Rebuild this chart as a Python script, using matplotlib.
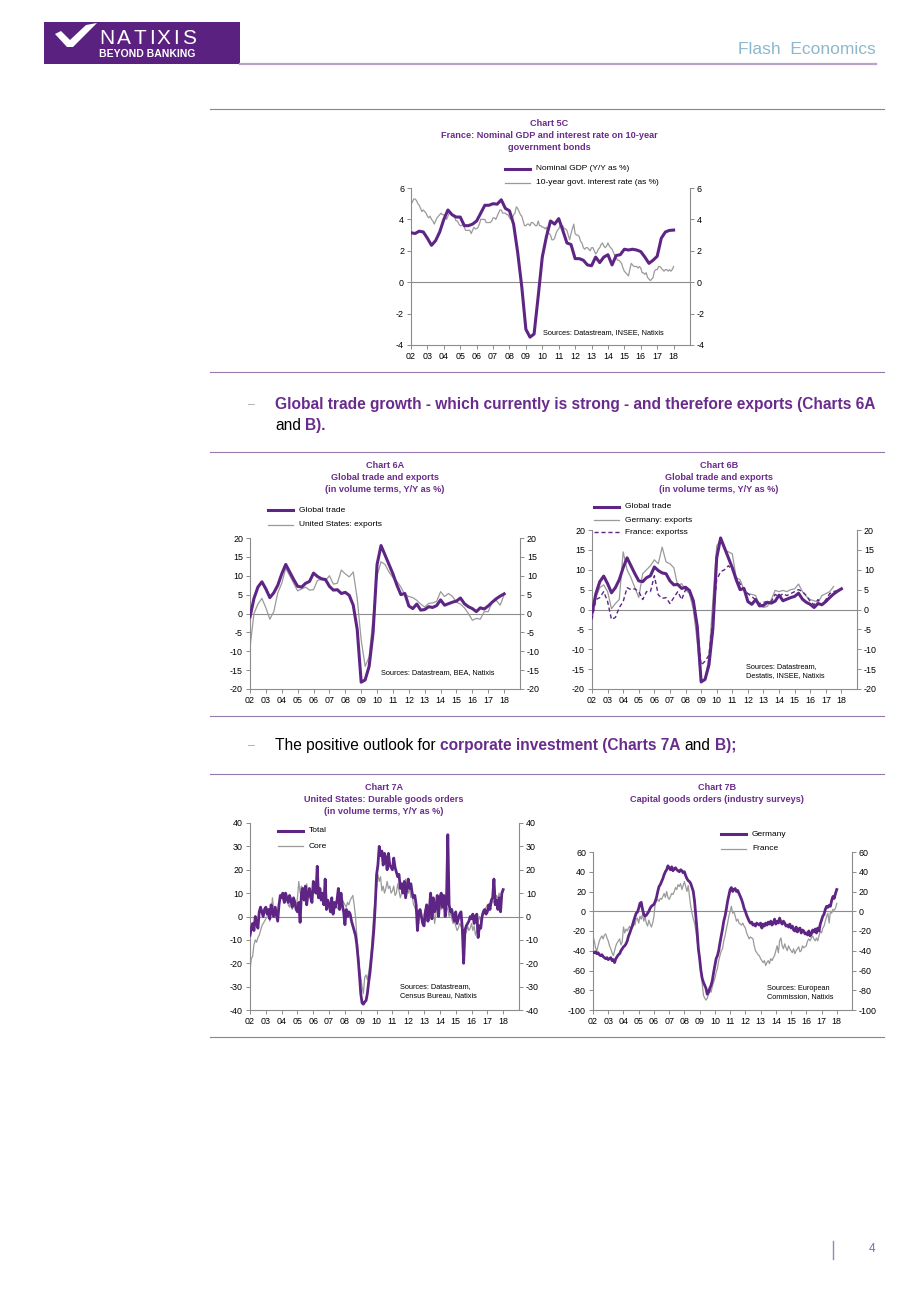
import numpy as np
import matplotlib
matplotlib.use("Agg")
import matplotlib.pyplot as plt
from matplotlib.lines import Line2D
from matplotlib.patches import Rectangle, Polygon
from matplotlib import font_manager

# ---------------- DATA ----------------
YEAR_LABELS = ['02', '03', '04', '05', '06', '07', '08', '09', '10',
               '11', '12', '13', '14', '15', '16', '17', '18']

# Chart 5C (quarterly GDP from 2002Q1, monthly 10y rate from Jan 2002)
FR_NOMINAL_GDP = [3.15, 3.1, 3.25, 3.2, 2.8, 2.35, 2.65, 3.2, 4.0, 4.6, 4.3, 4.15,
                  4.15, 3.6, 3.6, 3.7, 3.9, 4.4, 4.9, 4.9, 5.0, 4.97, 5.25, 4.7,
                  4.55, 3.7, 1.9, -0.3, -3.0, -3.5, -3.3, -0.9, 1.6, 2.9, 3.9, 3.7,
                  4.05, 3.3, 2.5, 2.4, 1.5, 1.5, 1.4, 1.1, 1.05, 1.6, 1.25, 1.6,
                  1.75, 1.1, 1.7, 1.75, 2.1, 2.05, 2.1, 2.05, 1.95, 1.6, 1.2, 1.4,
                  1.65, 2.8, 3.2, 3.3, 3.32]
FR_10Y_RATE = [5.0, 5.1, 5.3, 5.3, 5.2, 5.0, 4.9, 4.7, 4.5, 4.6, 4.5, 4.4,
               4.2, 4.1, 4.2, 4.0, 3.9, 3.7, 3.9, 4.1, 4.2, 4.3, 4.4, 4.3,
               4.3, 4.2, 4.0, 4.2, 4.4, 4.4, 4.3, 4.2, 4.1, 3.9, 3.9, 3.7,
               3.6, 3.6, 3.7, 3.5, 3.3, 3.3, 3.3, 3.3, 3.1, 3.3, 3.5, 3.4,
               3.4, 3.5, 3.7, 4.0, 4.0, 4.0, 4.0, 3.8, 3.8, 3.8, 3.8, 3.9,
               4.1, 4.1, 4.0, 4.2, 4.4, 4.6, 4.6, 4.4, 4.4, 4.4, 4.3, 4.3,
               4.1, 4.0, 4.0, 4.3, 4.4, 4.8, 4.7, 4.5, 4.3, 4.2, 3.9, 3.6,
               3.6, 3.7, 3.7, 3.6, 3.8, 3.8, 3.7, 3.6, 3.6, 3.9, 3.6, 3.6,
               3.5, 3.5, 3.4, 3.5, 3.1, 3.1, 3.0, 2.7, 2.7, 2.8, 3.1, 3.3,
               3.4, 3.6, 3.6, 3.6, 3.4, 3.4, 3.3, 3.0, 2.7, 3.1, 3.4, 3.7,
               3.1, 3.0, 3.0, 2.9, 2.6, 2.5, 2.2, 2.1, 2.2, 2.2, 2.1, 2.0,
               2.2, 2.2, 2.0, 1.8, 1.9, 2.1, 2.2, 2.4, 2.5, 2.3, 2.2, 2.3,
               2.5, 2.3, 2.2, 2.1, 1.9, 1.7, 1.6, 1.4, 1.4, 1.3, 1.2, 0.9,
               0.7, 0.6, 0.5, 0.4, 0.8, 1.2, 1.1, 1.0, 1.0, 1.0, 0.9, 1.0,
               0.9, 0.6, 0.6, 0.5, 0.6, 0.3, 0.2, 0.1, 0.2, 0.3, 0.7, 0.8,
               0.8, 1.0, 1.0, 0.9, 0.8, 0.7, 0.8, 0.8, 0.7, 0.8, 0.7, 0.8,
               1.0]

# Charts 6A / 6B (quarterly from 2002Q1)
GLOBAL_TRADE = [-0.9, 4.0, 7.0, 8.4, 6.5, 4.2, 5.5, 7.5, 10.5, 13.0, 11.0, 9.0,
                7.2, 7.0, 8.0, 8.5, 10.7, 9.8, 9.2, 9.0, 7.2, 6.2, 6.3, 5.3,
                5.6, 4.8, 2.2, -4.2, -18.2, -17.6, -14.0, -5.0, 13.0, 18.0, 15.5, 13.0,
                10.5, 7.5, 5.0, 5.3, 2.0, 1.3, 2.5, 0.9, 1.05, 1.8, 1.6, 2.1,
                3.6, 2.2, 2.6, 3.0, 3.3, 4.1, 2.6, 1.8, 1.3, 0.5, 1.5, 1.2,
                2.0, 3.0, 3.9, 4.6, 5.2]
US_EXPORTS = [-9.0, 0.0, 2.5, 4.0, 1.5, -1.5, 0.5, 5.5, 8.0, 12.0, 10.0, 8.0,
              6.0, 6.5, 7.0, 6.2, 6.3, 8.8, 9.0, 8.7, 10.0, 7.8, 8.0, 11.5,
              10.5, 9.7, 11.0, 4.0, -7.0, -14.0, -11.5, -1.0, 10.0, 13.7, 13.0, 11.0,
              9.5, 8.5, 7.0, 5.0, 4.5, 4.2, 3.5, 2.5, 1.7, 2.7, 2.8, 3.2,
              5.8, 4.5, 5.3, 4.5, 3.0, 2.5, 1.5, 0.0, -1.8, -1.3, -1.5, 0.5,
              0.5, 3.0, 3.5, 2.2, 5.0]
DE_EXPORTS = [-1.0, 3.0, 5.5, 6.2, 4.5, 0.2, 1.5, 2.5, 14.5, 10.0, 8.0, 5.5,
              3.0, 9.0, 10.0, 11.0, 12.5, 11.5, 15.7, 12.0, 11.5, 10.5, 6.0, 6.5,
              5.0, 4.0, 0.0, -8.0, -18.5, -17.5, -12.0, 2.0, 16.0, 17.5, 15.0, 14.5,
              14.0, 8.0, 7.5, 5.0, 4.0, 3.8, 3.5, 1.0, 0.5, 0.8, 2.5, 4.8,
              4.5, 4.8, 4.5, 5.0, 5.2, 6.4, 4.5, 3.3, 2.5, 2.2, 1.8, 3.5,
              4.0, 4.5, 5.8]
FR_EXPORTS = [-2.5, 2.5, 3.0, 4.5, 2.0, -2.5, -2.0, 0.5, 2.0, 5.5, 5.0, 5.2,
              4.5, 2.5, 4.5, 4.5, 8.5, 3.7, 2.8, 3.0, 1.5, 3.0, 4.5, 2.5,
              5.0, 4.5, 1.5, -4.0, -14.0, -13.0, -11.5, -3.0, 7.5, 9.5, 10.0, 11.0,
              10.0, 8.0, 6.5, 5.0, 4.0, 3.2, 2.5, 1.5, 1.8, 2.0, 2.0, 3.8,
              3.2, 4.0, 3.5, 4.0, 4.5, 5.0, 4.5, 3.5, 2.0, 1.2, 2.5, 1.0,
              2.5, 4.0, 4.5, 4.8]

# Chart 7A (monthly from Jan 2002)
US_DURABLE_TOTAL = [-8, -5, -3, -6, 0, -3, -5, 2, 4, 2, 0, 3,
                    4, 1, 3, -1, 5, 2, 0, 4, 1, -2, 5, 9,
                    8, 10, 6, 10, 8, 6, 9, 7, 4, 8, 6, 3,
                    2, 6, -2.5, 10, 12, 7, 13, 5, 10, 12, 8, 6,
                    15, 12, 10, 21.5, 8, 12, 7, 10, 5, 16, 3, 7,
                    5, 2, 8, 1, 6, 4, 7, 12, 3, 10, 5, 2,
                    -3.5, 3, 0, 2, 1, -2, -4, -6, -8, -12, -18, -25,
                    -33, -37, -37.5, -36.5, -36, -33, -28, -24, -18, -12, -5, 5,
                    18, 22, 30, 26, 28, 22, 27, 25, 20, 27, 22, 21,
                    20, 25, 21, 19, 17, 18, 12, 14, 10, 15, 8, 12,
                    16, 12, 14, 10, 8, 9, 5, -6, 2, 3, 0, -3,
                    -4, 2, 5, -2, 3, 10, -1, 8, 2, 4, 9, 0,
                    8, 10, 4, 9, 0, 6, 35, 5, 2, 3, 0, -2,
                    2, -3, -1, 1, 2, -5, -20, -6, -4, -3, -2, 0,
                    -1, 1, -3, 0, 1, -9, -4, -5, 0, 2, 3, 1,
                    2, 5, 3, 7, 8, 16, 5, 7, 3, 8, 2, 10,
                    11.5]
US_DURABLE_CORE = [-23, -18, -17, -12, -10, -11, -9, -8, -6, -4, -3, -2,
                   -1, 0, 2, -2, 1, 8, 3, 2, 4, 1, 6, 8,
                   10, 7, 9, 6, 8, 5, 4, 8, 3, 5, 7, 4,
                   8, 15, 10, 13, 12, 8, 11, 14, 10, 9, 12, 10,
                   13, 10, 11, 9, 12, 8, 10, 9, 8, 7, 6, 5,
                   5, 3, 4, 6, 2, 5, 4, 3, 6, 8, 7, 6,
                   5, 4, 6, 5, 7, 8, 9, 5, 0, -8, -15, -22,
                   -26, -30, -33, -26, -25, -27, -24, -20, -14, -6, 2, 8,
                   12, 18, 15, 17, 11, 13, 10, 12, 15, 12, 13, 10,
                   11, 13, 9, 10, 14, 11, 8, 10, 12, 13, 16, 13,
                   10, 12, 8, 9, 5, 4, 2, 0, -3, 2, 0, -4,
                   1, 3, -2, 0, 5, -1, 2, 4, -3, 1, 5, 2,
                   7, 3, 4, 6, 2, 4, 3, 0, 2, -1, -3, -2,
                   -4, -6, -5, -3, -4, -6, -8, -5, -7, -4, -6, -5,
                   -3, -6, -4, -8, -6, -2, 0, -2, 1, 3, 2, 4,
                   5, 3, 6, 5, 7, 6, 5, 9, 8, 10, 7, 9,
                   11]

# Chart 7B (monthly from Jan 2002)
DE_CAPITAL_ORDERS = [-42, -42, -41, -43, -42, -44, -45, -44, -46, -47, -48, -47,
                     -49, -48, -47, -50, -49, -52, -48, -46, -44, -43, -40, -38,
                     -36, -35, -33, -30, -25, -22, -18, -15, -10, -6, -2, -1,
                     3, 8, 9, 2, -3, -5, -4, -2, 0, 3, 5, 6,
                     7, 10, 14, 20, 25, 27, 30, 33, 37, 40, 42, 46,
                     44, 42, 45, 41, 43, 44, 42, 41, 40, 42, 41, 39,
                     40, 36, 33, 31, 30, 28, 24, 20, 10, -5, -20, -38,
                     -48, -60, -68, -72, -75, -78, -84, -82, -78, -75, -70, -62,
                     -55, -48, -45, -40, -32, -25, -18, -10, -5, 2, 10, 16,
                     22, 24, 20, 22, 23, 20, 21, 18, 15, 12, 8, 3,
                     0, -4, -7, -10, -12, -11, -14, -13, -15, -12, -13, -14,
                     -12, -17, -13, -15, -12, -14, -11, -13, -10, -14, -12, -8,
                     -13, -10, -12, -7, -11, -13, -10, -12, -15, -14, -16, -13,
                     -17, -15, -19, -20, -16, -21, -18, -17, -22, -19, -20, -23,
                     -22, -24, -20, -25, -23, -19, -21, -18, -22, -17, -20, -13,
                     -9, -5, -3, 2, 5, 4, 6, 5, 11, 15, 13, 18,
                     22]
FR_CAPITAL_ORDERS = [-25, -30, -37, -40, -35, -30, -27, -25, -28, -24, -23, -27,
                     -30, -35, -38, -42, -45, -40, -35, -32, -30, -28, -34, -31,
                     -16, -22, -18, -20, -17, -15, -19, -12, -10, -14, -8, -7,
                     -12, -5, -8, -3, -10, -6, -12, -15, -9, -13, -16, -12,
                     -5, 8, 10, 12, 10, 13, 12, 15, 18, 14, 20, 14,
                     12, 15, 18, 17, 20, 24, 22, 27, 25, 28, 22, 26,
                     30, 25, 20, 26, 15, 5, -2, -8, -12, -20, -30, -40,
                     -50, -62, -75, -85, -88, -90, -88, -84, -80, -82, -76, -72,
                     -68, -62, -58, -50, -45, -40, -38, -30, -25, -18, -12, -5,
                     0, 5, -2, 0, -5, -10, -8, -12, -13, -14, -12, -15,
                     -17, -22, -25, -28, -26, -27, -28, -35, -40, -42, -44, -45,
                     -48, -50, -52, -50, -55, -52, -50, -53, -48, -50, -47, -45,
                     -40, -35, -42, -30, -27, -35, -38, -33, -37, -40, -35, -38,
                     -40, -42, -38, -43, -40, -38, -36, -41, -40, -35, -37, -36,
                     -35, -30, -28, -30, -27, -25, -28, -30, -27, -30, -25, -20,
                     -22, -17, -15, -10, -5, -2, -12, 0, -2, 2, 1, 3,
                     8]

# ---------------- STYLE ----------------
W, H = 920, 1302
PURPLE = '#5e2585'
TITLE_PURPLE = '#6a2c8c'
GRAY = '#9a9a9a'
AXGRAY = '#8c8c8c'
SEP = '#9479ad'
names = {f.name for f in font_manager.fontManager.ttflist}
SANS = 'Liberation Sans' if 'Liberation Sans' in names else 'DejaVu Sans'
NARROW = 'Liberation Sans Narrow' if 'Liberation Sans Narrow' in names else SANS
plt.rcParams['font.family'] = [SANS, 'DejaVu Sans']

fig = plt.figure(figsize=(W / 100, H / 100), dpi=100)
fig.patch.set_facecolor('white')
renderer = fig.canvas.get_renderer()


def fx(x):
    return x / W


def fy(y):
    return 1 - y / H


def txt(x, y, s, **kw):
    kw.setdefault('va', 'center')
    return fig.text(fx(x), fy(y), s, **kw)


def fline(x0, x1, y0, y1, **kw):
    fig.add_artist(Line2D([fx(x0), fx(x1)], [fy(y0), fy(y1)], transform=fig.transFigure, **kw))


def make_ax(l, t, r, b, ylim, yticks, xright):
    ax = fig.add_axes([fx(l), fy(b), (r - l) / W, (b - t) / H])
    ax.set_facecolor('none')
    ax.set_xlim(2002, xright)
    ax.set_ylim(*ylim)
    ax.spines['top'].set_visible(False)
    for s in ['left', 'right', 'bottom']:
        ax.spines[s].set_color(AXGRAY)
        ax.spines[s].set_linewidth(0.8)
    ax.set_yticks(yticks)
    ax.set_yticklabels([str(v) for v in yticks])
    ax.tick_params(axis='y', left=True, right=True, labelleft=True, labelright=True,
                   direction='out', length=3, width=0.7, color=AXGRAY, labelsize=6.4, pad=2)
    years = np.arange(2002, 2019)
    ax.set_xticks(years)
    ax.set_xticklabels(YEAR_LABELS)
    ax.tick_params(axis='x', direction='out', length=3, width=0.7, color=AXGRAY,
                   labelsize=6.4, pad=2)
    ax.axhline(0, color=AXGRAY, lw=0.8, zorder=1)
    return ax


def qx(vals):
    return 2002 + np.arange(len(vals)) * 0.25


def mx(vals):
    return 2002 + np.arange(len(vals)) / 12.0


def title(cx, y0, lines):
    for i, s in enumerate(lines):
        txt(cx, y0 + i * 12, s, ha='center', fontsize=6.6, fontweight='bold', color=TITLE_PURPLE)


def legend_item(x, y, label, color, lw, ls='-'):
    fline(x, x + 25, y, y, color=color, lw=lw, ls=ls)
    txt(x + 31, y, label, ha='left', fontsize=6.0, color='black')


# ---------------- HEADER ----------------
fig.add_artist(Rectangle((fx(44), fy(64)), 196 / W, 42 / H, transform=fig.transFigure,
                         facecolor='#5b2181', edgecolor='none'))
logo = [(55, 34), (61, 31), (70, 40), (86, 25), (97, 23), (93, 27), (73, 47), (67, 47)]
fig.add_artist(Polygon([(fx(a), fy(b)) for a, b in logo], closed=True,
                       transform=fig.transFigure, facecolor='white', edgecolor='none'))
xpos = 99.0
for ch in 'NATIXIS':
    t = txt(xpos, 38.5, ch, ha='left', fontsize=15, color='white')
    xpos += t.get_window_extent(renderer=renderer).width + 2.6
txt(99, 54, 'BEYOND BANKING', ha='left', fontsize=7.5, fontweight='bold', color='white')
txt(876, 49, 'Flash  Economics', ha='right', fontsize=12.5, color='#8db8cb')
fline(240, 876, 63.5, 63.5, color='#b9a2c9', lw=1.6)

# separators
for yy in [109, 372, 452, 716, 774, 1037]:
    fline(210, 884, yy, yy, color=SEP, lw=0.8)

# ---------------- CHART 5C ----------------
ax = make_ax(411, 188, 690, 345, (-4, 6), [-4, -2, 0, 2, 4, 6], 2019)
ax.plot(mx(FR_10Y_RATE), FR_10Y_RATE, color=GRAY, lw=0.9, zorder=2)
ax.plot(qx(FR_NOMINAL_GDP), FR_NOMINAL_GDP, color=PURPLE, lw=2.2, zorder=3)
title(549, 124, ['Chart 5C', 'France: Nominal GDP and interest rate on 10-year', 'government bonds'])
legend_item(505, 169, 'Nominal GDP (Y/Y as %)', PURPLE, 2.2)
legend_item(505, 183, '10-year govt. interest rate (as %)', GRAY, 0.9)
txt(543, 333, 'Sources: Datastream, INSEE, Natixis', ha='left', fontsize=5.3)

# ---------------- CHART 6A ----------------
ax = make_ax(250, 538, 520, 689, (-20, 20), list(range(-20, 21, 5)), 2019)
ax.plot(qx(US_EXPORTS), US_EXPORTS, color=GRAY, lw=0.9, zorder=2)
ax.plot(qx(GLOBAL_TRADE), GLOBAL_TRADE, color=PURPLE, lw=2.2, zorder=3)
title(385, 465, ['Chart 6A', 'Global trade and exports', '(in volume terms, Y/Y as %)'])
legend_item(268, 510, 'Global trade', PURPLE, 2.2)
legend_item(268, 525, 'United States: exports', GRAY, 0.9)
txt(381, 673, 'Sources: Datastream, BEA, Natixis', ha='left', fontsize=5.3)

# ---------------- CHART 6B ----------------
ax = make_ax(592, 530, 857, 689, (-20, 20), list(range(-20, 21, 5)), 2019)
ax.plot(qx(DE_EXPORTS), DE_EXPORTS, color=GRAY, lw=0.9, zorder=2)
ax.plot(qx(FR_EXPORTS), FR_EXPORTS, color=PURPLE, lw=1.0, ls=(0, (3, 2)), zorder=3)
ax.plot(qx(GLOBAL_TRADE), GLOBAL_TRADE, color=PURPLE, lw=2.2, zorder=4)
title(719, 465, ['Chart 6B', 'Global trade and exports', '(in volume terms, Y/Y as %)'])
legend_item(594, 507, 'Global trade', PURPLE, 2.2)
legend_item(594, 520, 'Germany: exports', GRAY, 0.9)
legend_item(594, 532, 'France: exportss', PURPLE, 1.0, ls=(0, (3, 2)))
txt(746, 667, 'Sources: Datastream,', ha='left', fontsize=5.3)
txt(746, 676, 'Destatis, INSEE, Natixis', ha='left', fontsize=5.3)

# ---------------- CHART 7A ----------------
ax = make_ax(250, 823, 519, 1010, (-40, 40), list(range(-40, 41, 10)), 2019)
ax.plot(mx(US_DURABLE_CORE), US_DURABLE_CORE, color=GRAY, lw=0.9, zorder=2)
ax.plot(mx(US_DURABLE_TOTAL), US_DURABLE_TOTAL, color=PURPLE, lw=2.0, zorder=3)
title(384, 788, ['Chart 7A', 'United States: Durable goods orders', '(in volume terms, Y/Y as %)'])
legend_item(278, 831, 'Total', PURPLE, 2.2)
legend_item(278, 846, 'Core', GRAY, 0.9)
txt(400, 987, 'Sources: Datastream,', ha='left', fontsize=5.3)
txt(400, 996, 'Census Bureau, Natixis', ha='left', fontsize=5.3)

# ---------------- CHART 7B ----------------
ax = make_ax(593, 852, 852, 1010, (-100, 60), list(range(-100, 61, 20)), 2019)
ax.plot(mx(FR_CAPITAL_ORDERS), FR_CAPITAL_ORDERS, color=GRAY, lw=0.9, zorder=2)
ax.plot(mx(DE_CAPITAL_ORDERS), DE_CAPITAL_ORDERS, color=PURPLE, lw=2.0, zorder=3)
title(717, 788, ['Chart 7B', 'Capital goods orders (industry surveys)'])
legend_item(721, 834, 'Germany', PURPLE, 2.2)
legend_item(721, 849, 'France', GRAY, 0.9)
txt(767, 988, 'Sources: European', ha='left', fontsize=5.3)
txt(767, 997, 'Commission, Natixis', ha='left', fontsize=5.3)

# ---------------- BODY TEXT ----------------
BODY_FAMILY = [NARROW, 'DejaVu Sans']


def width_of(s, size, weight):
    t = fig.text(0, 0, s, fontsize=size, fontweight=weight, family=BODY_FAMILY)
    w = t.get_window_extent(renderer=renderer).width
    t.remove()
    return w


line1 = 'Global trade growth - which currently is strong - and therefore exports (Charts 6A'
BODY = 10 * 601 / width_of(line1, 10, 'bold')
SPACE = width_of('a a', BODY, 'normal') - width_of('aa', BODY, 'normal')


def run(x, y, pieces):
    # y is the text baseline in pixels
    for s, weight, color in pieces:
        if s == ' ':
            x += SPACE
            continue
        t = txt(x, y, s, ha='left', va='baseline', fontsize=BODY, fontweight=weight,
                color=color, family=BODY_FAMILY)
        x += t.get_window_extent(renderer=renderer).width


SP = (' ', '', '')
txt(248, 408, '\u2013', ha='left', va='baseline', fontsize=BODY * 0.8, color='#a8a8a8')
run(275, 409, [(line1, 'bold', TITLE_PURPLE)])
run(275, 430, [('and', 'normal', 'black'), SP, ('B).', 'bold', TITLE_PURPLE)])
txt(248, 749, '\u2013', ha='left', va='baseline', fontsize=BODY * 0.8, color='#a8a8a8')
run(275, 750, [('The positive outlook for', 'normal', 'black'), SP,
               ('corporate investment (Charts 7A', 'bold', TITLE_PURPLE), SP,
               ('and', 'normal', 'black'), SP, ('B);', 'bold', TITLE_PURPLE)])

# ---------------- FOOTER ----------------
fline(833, 833, 1241, 1259, color='#9a86b8', lw=1.0)
txt(872, 1249, '4', ha='center', fontsize=8.5, color='#7b6bb0')

fig.savefig('out.png', dpi=100, facecolor='white')
